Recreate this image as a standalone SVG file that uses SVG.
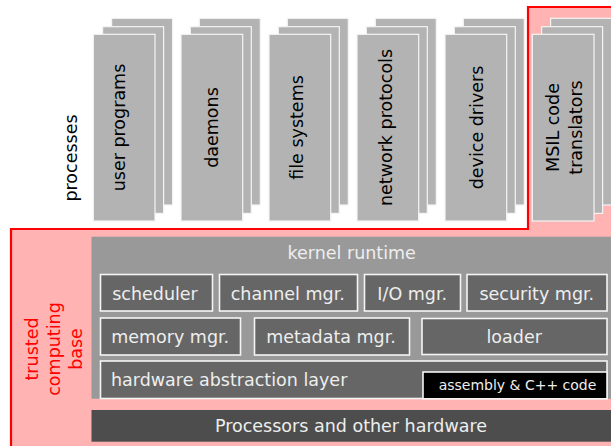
<svg xmlns="http://www.w3.org/2000/svg" xmlns:xlink="http://www.w3.org/1999/xlink" width="611" height="446" viewBox="0 0 611 446">
  <style>
    text { font-family: "DejaVu Sans", Verdana, sans-serif; font-size: 17.5px; }
    text.small { font-size: 14px; }
    .sheet { fill: #b3b3b3; stroke: #f4f4f4; stroke-width: 1.2; }
    .dark { fill: #666666; stroke: #f4f4f4; stroke-width: 1.6; }
    .light { fill: #eeeeee; }
    .mid { text-anchor: middle; }
    .vlabel { fill: #000000; text-anchor: middle; }
  </style>
  <defs>
    <!-- three stacked sheets, back to front -->
    <g id="stack">
      <rect class="sheet" x="18.3" y="-16" width="61" height="186.7"/>
      <rect class="sheet" x="9.3" y="-7.6" width="61" height="186.7"/>
      <rect class="sheet" x="0" y="0" width="61.7" height="186.7"/>
    </g>
  </defs>

  <!-- trusted computing base region -->
  <path d="M11,448 V229 H528 V7 H614 V448 Z" fill="#ffb3b3" stroke="#ff0000" stroke-width="2.2"/>

  <text transform="translate(76.5,158) rotate(-90)" class="mid" fill="#000">processes</text>

  <g id="tcb-label" fill="#ff0000" class="mid">
    <text transform="translate(38.3,349) rotate(-90)">trusted</text>
    <text transform="translate(60,349) rotate(-90)">computing</text>
    <text transform="translate(81.7,349) rotate(-90)">base</text>
  </g>

  <g id="user-programs">
    <use xlink:href="#stack" x="93.3" y="34.3"/>
    <text class="vlabel" transform="translate(124.5,127.5) rotate(-90)">user programs</text>
  </g>
  <g id="daemons">
    <use xlink:href="#stack" x="181" y="34.3"/>
    <text class="vlabel" transform="translate(218.3,127.5) rotate(-90)">daemons</text>
  </g>
  <g id="file-systems">
    <use xlink:href="#stack" x="269" y="34.3"/>
    <text class="vlabel" transform="translate(303,127.5) rotate(-90)">file systems</text>
  </g>
  <g id="network-protocols">
    <use xlink:href="#stack" x="357" y="34.3"/>
    <text class="vlabel" transform="translate(391.5,127.5) rotate(-90)">network protocols</text>
  </g>
  <g id="device-drivers">
    <use xlink:href="#stack" x="445" y="34.3"/>
    <text class="vlabel" transform="translate(482.5,127.5) rotate(-90)">device drivers</text>
  </g>
  <g id="msil-translators">
    <use xlink:href="#stack" x="532.3" y="34.3"/>
    <text class="vlabel" transform="translate(559.3,127.5) rotate(-90)">MSIL code</text>
    <text class="vlabel" transform="translate(581.5,127.5) rotate(-90)">translators</text>
  </g>

  <g id="kernel-runtime">
    <rect x="91.5" y="236.7" width="530" height="162" fill="#999999"/>
    <text class="light mid" x="351.7" y="259">kernel runtime</text>
  </g>

  <g id="scheduler">
    <rect class="dark" x="100.5" y="274.5" width="112" height="36.5"/>
    <text class="light mid" x="155" y="300">scheduler</text>
  </g>
  <g id="channel-mgr">
    <rect class="dark" x="219.5" y="274.5" width="138" height="36.5"/>
    <text class="light mid" x="287.8" y="300">channel mgr.</text>
  </g>
  <g id="io-mgr">
    <rect class="dark" x="364.5" y="274.5" width="96" height="36.5"/>
    <text class="light mid" x="412.2" y="300">I/O mgr.</text>
  </g>
  <g id="security-mgr">
    <rect class="dark" x="467" y="274.5" width="140" height="36.5"/>
    <text class="light mid" x="536.8" y="300">security mgr.</text>
  </g>

  <g id="memory-mgr">
    <rect class="dark" x="100.5" y="318" width="140" height="37"/>
    <text class="light mid" x="170.2" y="343.3">memory mgr.</text>
  </g>
  <g id="metadata-mgr">
    <rect class="dark" x="254.5" y="318" width="155" height="37"/>
    <text class="light mid" x="331" y="343.3">metadata mgr.</text>
  </g>
  <g id="loader">
    <rect class="dark" x="422" y="318.5" width="185" height="36" stroke-width="2.8"/>
    <text class="light mid" x="514.2" y="343.3">loader</text>
  </g>

  <g id="hal">
    <rect class="dark" x="100.5" y="361" width="506.5" height="37.5"/>
    <text class="light" x="111" y="385.7">hardware abstraction layer</text>
  </g>
  <g id="asm-code">
    <rect x="423" y="372" width="184" height="26.8" fill="#000000" stroke="#f4f4f4" stroke-width="1.6"/>
    <text class="light mid small" x="517.5" y="390">assembly &amp; C++ code</text>
  </g>

  <g id="hardware">
    <rect x="91.5" y="410" width="530" height="31.7" fill="#4d4d4d"/>
    <text class="light mid" x="351" y="431.7">Processors and other hardware</text>
  </g>

  <g id="connectors"/>
</svg>
